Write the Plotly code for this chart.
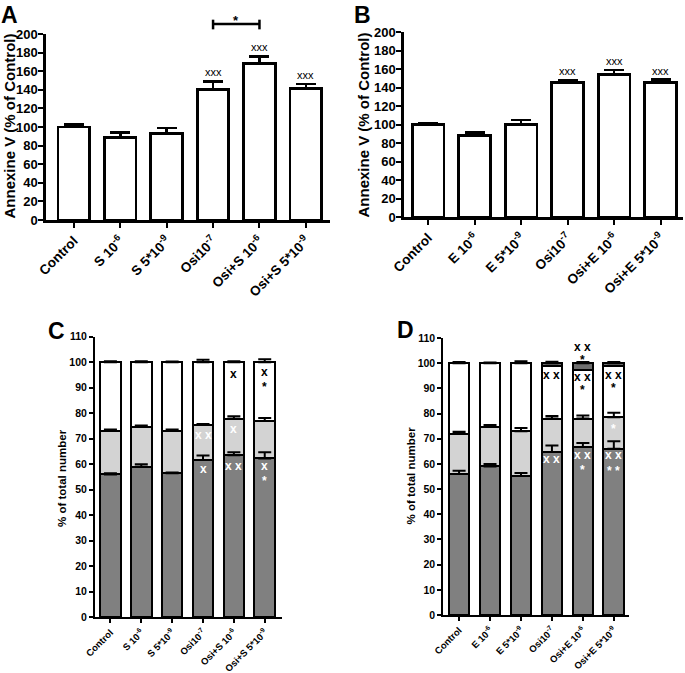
import numpy as np
import plotly.graph_objects as go

W, H = 685, 673
FONT = "Liberation Sans, Arial, sans-serif"

# ---------------- data ----------------
cats_A = ["Control", "S 10<sup>-6</sup>", "S 5*10<sup>-9</sup>", "Osi10<sup>-7</sup>",
          "Osi+S 10<sup>-6</sup>", "Osi+S 5*10<sup>-9</sup>"]
cats_B = ["Control", "E 10<sup>-6</sup>", "E 5*10<sup>-9</sup>", "Osi10<sup>-7</sup>",
          "Osi+E 10<sup>-6</sup>", "Osi+E 5*10<sup>-9</sup>"]

annex_A = [100, 89, 93, 140, 168, 141]
annex_A_err = [2.5, 5, 6, 9, 8, 5]
annex_B = [100, 88.5, 100, 145, 154, 145.5]
annex_B_err = [1.5, 3, 5, 3, 5, 3]
sig_A = ["", "", "", "xxx", "xxx", "xxx"]
sig_B = ["", "", "", "xxx", "xxx", "xxx"]

# panel C: segment sizes (% of total number)
dark_C = [56.0, 59.0, 56.5, 61.7, 63.5, 62.3]
dark_C_err = [0.5, 1.0, 0.3, 1.7, 1.2, 2.4]
light_C = [17.0, 15.6, 16.5, 13.7, 14.3, 14.7]
light_C_err = [0.6, 0.6, 0.6, 0.4, 1.0, 1.1]
white_C = [27.0, 25.4, 27.0, 24.6, 22.2, 23.0]
white_C_err = [0.4, 0.4, 0.3, 1.0, 0.4, 1.2]

# panel D
dark_D = [56.0, 59.0, 55.2, 64.7, 66.7, 66.0]
dark_D_err = [1.3, 1.0, 1.2, 2.6, 1.6, 3.0]
light_D = [16.0, 15.7, 17.8, 13.3, 11.3, 12.5]
light_D_err = [0.8, 0.8, 1.3, 1.0, 1.2, 1.8]
white_D = [28.0, 25.3, 27.0, 21.0, 19.3, 20.3]
white_D_err = [0.0, 0.0, 0.0, 0.0, 0.0, 0.0]
top_D = [0.0, 0.0, 0.0, 1.0, 2.7, 1.2]
top_D_err = [0.5, 0.3, 0.8, 0.6, 0.5, 0.5]

# significance marks inside stacked bars: (category index, y, text, colour)
marks_C = [
    (3, 71.5, "x x", "white"), (3, 58.0, "x", "white"),
    (4, 95.5, "x", "black"), (4, 74.0, "x", "white"), (4, 59.5, "x x", "white"),
    (5, 96.3, "x", "black"), (5, 91.5, "*", "black"), (5, 59.5, "x", "white"), (5, 54.6, "*", "white"),
]
marks_D = [
    (3, 95.4, "x x", "black"), (3, 61.9, "x x", "white"),
    (4, 106.6, "x x", "black"), (4, 102.6, "*", "black"),
    (4, 94.7, "x x", "black"), (4, 90.7, "*", "black"),
    (4, 63.6, "x x", "white"), (4, 58.6, "*", "white"),
    (5, 95.4, "x x", "black"), (5, 91.4, "*", "black"), (5, 75.2, "*", "white"),
    (5, 63.5, "x x", "white"), (5, 58.5, "* *", "white"),
]

DARK = "#808080"
LIGHT = "#d3d3d3"
TOPC = "#6e6e6e"

# ---------------- helpers ----------------
def dom_x(a, b):
    return [a / W, b / W]

def dom_y(top, bottom):
    return [1 - bottom / H, 1 - top / H]

fig = go.Figure()

def err(arr, lw, hw):
    return dict(type="data", array=arr, arrayminus=[0] * len(arr), symmetric=False,
                color="black", thickness=lw, width=hw)

# A
fig.add_trace(go.Bar(x=cats_A, y=annex_A, width=0.68, xaxis="x", yaxis="y",
                     marker=dict(color="white", line=dict(color="black", width=2.8)),
                     error_y=err(annex_A_err, 2.5, 10)))
# B
fig.add_trace(go.Bar(x=cats_B, y=annex_B, width=0.68, xaxis="x2", yaxis="y2",
                     marker=dict(color="white", line=dict(color="black", width=2.8)),
                     error_y=err(annex_B_err, 2.5, 10)))

def stacked(cats, segs, colors, errs, xa, ya):
    for s, c in zip(segs, colors):
        fig.add_trace(go.Bar(x=cats, y=s, width=0.67, xaxis=xa, yaxis=ya,
                             marker=dict(color=c, line=dict(color="black", width=2))))
    cum = np.cumsum(np.array(segs, dtype=float), axis=0)
    for level, e in zip(cum, errs):
        if max(e) <= 0:
            continue
        fig.add_trace(go.Scatter(x=cats, y=level, mode="markers", xaxis=xa, yaxis=ya,
                                 marker=dict(size=1, color="rgba(0,0,0,0)"),
                                 error_y=err(e, 2, 6.5), hoverinfo="skip"))

stacked(cats_A, [dark_C, light_C, white_C], [DARK, LIGHT, "white"],
        [dark_C_err, light_C_err, white_C_err], "x3", "y3")
stacked(cats_B, [dark_D, light_D, white_D, top_D], [DARK, LIGHT, "white", TOPC],
        [dark_D_err, light_D_err, white_D_err, top_D_err], "x4", "y4")

# ---------------- axes ----------------
def xax(domain, rng, fs, lw, tl, anchor):
    return dict(domain=domain, range=rng, showline=True, linecolor="black", linewidth=lw,
                ticks="outside", ticklen=tl, tickwidth=2, tickcolor="black",
                tickangle=-45, tickfont=dict(family=FONT, size=fs, color="black", weight="bold"),
                showgrid=False, zeroline=False, fixedrange=True, automargin=False,
                anchor=anchor)

def yax(domain, rng, dt, fs, lw, tl, anchor, so=0):
    return dict(domain=domain, range=rng, dtick=dt, showline=True, linecolor="black",
                linewidth=lw, ticks="outside", ticklen=tl, tickwidth=2, tickcolor="black",
                tickfont=dict(family=FONT, size=fs, color="black", weight="bold"),
                showgrid=False, zeroline=False, anchor=anchor, fixedrange=True,
                automargin=False, ticklabelstandoff=so)

layout = dict(
    template="none",
    width=W, height=H, margin=dict(l=0, r=0, t=0, b=0, pad=0, autoexpand=False),
    paper_bgcolor="white", plot_bgcolor="white", showlegend=False,
    barmode="stack",
    xaxis=xax(dom_x(46, 330), [-0.6, 5.52], 13.5, 2.5, 5, "y"),
    yaxis=yax(dom_y(34, 220), [0, 200], 20, 13, 2.5, 5, "x", -2),
    xaxis2=xax(dom_x(404, 683), [-0.52, 5.48], 13.5, 2.5, 5, "y2"),
    yaxis2=yax(dom_y(32, 217), [0, 200], 20, 13, 2.5, 5, "x2", -2),
    xaxis3=xax(dom_x(95, 281.7), [-0.5, 5.55], 9.5, 2, 4, "y3"),
    yaxis3=yax(dom_y(336.7, 617.3), [0, 110], 10, 10.5, 2, 4, "x3"),
    xaxis4=xax(dom_x(443.3, 629.3), [-0.51, 5.5], 9.5, 2, 4, "y4"),
    yaxis4=yax(dom_y(338, 615), [0, 110], 10, 10.5, 2, 4, "x4"),
)
fig.update_layout(**layout)

ann = []
# panel letters
for lab, cx, ty in [("A", 9, 0), ("B", 362, 0), ("C", 56, 316), ("D", 405, 315)]:
    ann.append(dict(text=lab, x=cx / W, y=1 - ty / H, xref="paper", yref="paper",
                    showarrow=False, xanchor="center", yanchor="top",
                    font=dict(family=FONT, size=23, color="black", weight="bold")))
# y titles
for t, cx, cy, fs in [("Annexine V (% of Control)", 8.5, 126, 15),
                      ("Annexine V (% of Control)", 362.5, 125, 15),
                      ("% of total number", 62, 478, 11.5),
                      ("% of total number", 410.5, 476, 11.5)]:
    ann.append(dict(text=t, x=cx / W, y=1 - cy / H, xref="paper", yref="paper",
                    showarrow=False, textangle=-90, xanchor="center", yanchor="middle",
                    font=dict(family=FONT, size=fs, color="black", weight="bold")))
# xxx marks A/B
for cats, vals, errs, sig, xr, yr in [(cats_A, annex_A, annex_A_err, sig_A, "x", "y"),
                                      (cats_B, annex_B, annex_B_err, sig_B, "x2", "y2")]:
    for i, s in enumerate(sig):
        if s:
            ann.append(dict(text=s, x=i, y=vals[i] + errs[i], xref=xr, yref=yr,
                            showarrow=False, yanchor="bottom", yshift=1,
                            font=dict(family=FONT, size=11, color="black")))
# significance bracket in A
ann.append(dict(text="*", x=3.5, y=1.07, xref="x", yref="y domain", showarrow=False,
                yanchor="middle", font=dict(family=FONT, size=13, color="black", weight="bold")))
shapes = [
    dict(type="line", xref="x", yref="y domain", x0=3, x1=4, y0=1.054, y1=1.054,
         line=dict(color="black", width=2.5)),
    dict(type="line", xref="x", yref="y domain", x0=3, x1=3, y0=1.025, y1=1.077,
         line=dict(color="black", width=2.5)),
    dict(type="line", xref="x", yref="y domain", x0=4, x1=4, y0=1.025, y1=1.077,
         line=dict(color="black", width=2.5)),
]
# marks in C / D
for marks, xr, yr in [(marks_C, "x3", "y3"), (marks_D, "x4", "y4")]:
    for i, yv, t, c in marks:
        ann.append(dict(text=t, x=i, y=yv, xref=xr, yref=yr, showarrow=False,
                        yanchor="middle", yshift=-3 if "*" in t else 0,
                        font=dict(family=FONT, size=12, color=c, weight="bold")))

fig.update_layout(annotations=ann, shapes=shapes)
fig.write_html("out.html", config={"displayModeBar": False},
               post_script="document.body.style.margin='0';document.body.style.padding='0';"
                           "document.body.style.overflow='hidden';")
